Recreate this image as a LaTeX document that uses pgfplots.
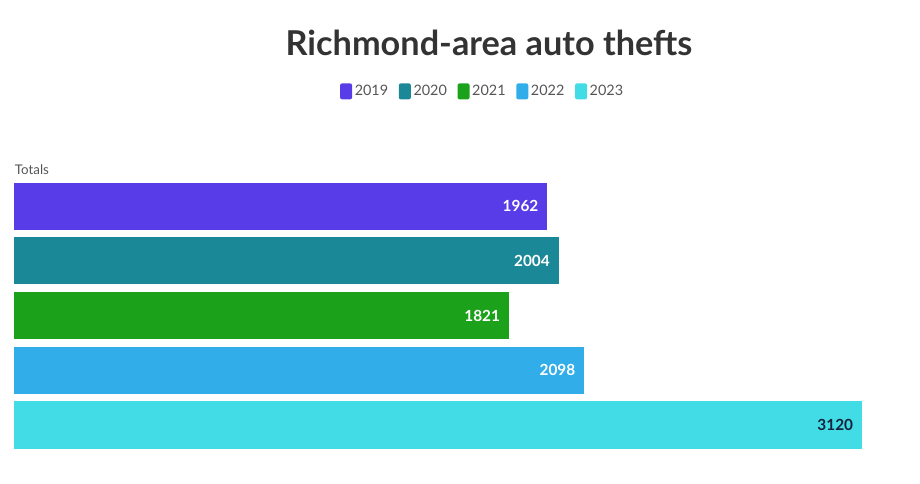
\documentclass[border=0pt]{standalone}
\usepackage{fontspec}
\setmainfont{Lato}
\usepackage{pgfplots}
\pgfplotsset{compat=1.18}
\definecolor{c19}{HTML}{583CE8}
\definecolor{c20}{HTML}{1B8898}
\definecolor{c21}{HTML}{1CA21A}
\definecolor{c22}{HTML}{31AEEA}
\definecolor{c23}{HTML}{41DCE6}
\definecolor{titlegray}{HTML}{333333}
\definecolor{txtgray}{HTML}{555555}
\definecolor{darklabel}{HTML}{15233A}
% 1px = 0.75pt; y measured from the bottom: y = (483 - py) * 0.75pt
\begin{document}
\begin{tikzpicture}
\path[use as bounding box] (0pt,0pt) rectangle (690pt,362.25pt);
\node[font=\fontsize{25.7}{30}\selectfont\bfseries, text=titlegray] at (366.75pt,330pt) {Richmond-area auto thefts};
\node[anchor=base west, inner sep=0pt, font=\fontsize{10}{12}\selectfont, text=txtgray] at (11pt,231.75pt) {Totals};
\begin{axis}[
    at={(10.5pt,23.0pt)}, anchor=south west,
    xbar, bar shift=0pt, bar width=0.86,
    scale only axis, width=636pt, height=205.1pt,
    xmin=0, xmax=3120, ymin=-0.5, ymax=4.5, y dir=reverse,
    hide axis,
    nodes near coords,
    nodes near coords style={anchor=east, xshift=-3.2pt, font=\fontsize{11.5}{13}\selectfont\bfseries, text=white},
    /pgf/number format/1000 sep={}, /pgf/number format/assume math mode=true,
    legend columns=5,
    legend style={at={(0.553,1.32)}, anchor=center, draw=none, fill=none,
        font=\fontsize{10.8}{12}\selectfont, text=txtgray,
        nodes={inner xsep=2pt},
        /tikz/every even column/.append style={column sep=6pt}},
    legend image code/.code={\fill[#1, draw=none, rounded corners=1.5pt] (0pt,-6pt) rectangle (9pt,6pt);},
]
\addplot[fill=c19, draw=none] coordinates {(1962,0)};
\addplot[fill=c20, draw=none] coordinates {(2004,1)};
\addplot[fill=c21, draw=none] coordinates {(1821,2)};
\addplot[fill=c22, draw=none] coordinates {(2098,3)};
\addplot[fill=c23, draw=none, every node near coord/.append style={text=darklabel}] coordinates {(3120,4)};
\legend{2019,2020,2021,2022,2023}
\end{axis}
\end{tikzpicture}
\end{document}
